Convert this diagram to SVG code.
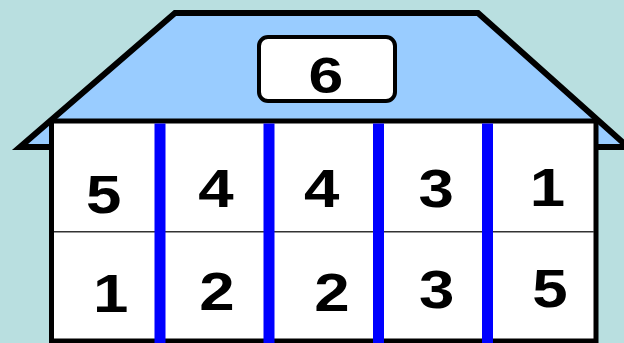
<svg xmlns="http://www.w3.org/2000/svg" width="624" height="343" viewBox="0 0 624 343">
<style>
.num{font-family:"Liberation Sans",Arial,sans-serif;font-weight:bold;font-size:53px;fill:#000;text-anchor:middle}
.bar{fill:#0000ff}
</style>
<rect x="0" y="0" width="624" height="343" fill="#b9dfe0"/>
<g id="roof">
<polygon points="20,147 175,13 478,13 628,147" fill="#99ccff" stroke="#000" stroke-width="6" stroke-linejoin="miter"/>
</g>
<g id="label-box">
<rect x="259" y="37" width="136" height="64" rx="9" fill="#fff" stroke="#000" stroke-width="4"/>
<text class="num" transform="translate(326,92.5) scale(1.25,1)" style="font-size:50px">6</text>
</g>
<g id="house">
<rect x="51.5" y="121" width="544.5" height="220" fill="#fff" stroke="#000" stroke-width="5"/>
<line x1="54" y1="231.7" x2="594" y2="231.7" stroke="#333" stroke-width="1.5"/>
</g>
<g id="connectors">
<rect class="bar" x="154.5" y="123.5" width="11" height="220"/>
<rect class="bar" x="263.5" y="123.5" width="11" height="220"/>
<rect class="bar" x="373" y="123.5" width="11" height="220"/>
<rect class="bar" x="482" y="123.5" width="11" height="220"/>
</g>
<g id="top-row">
<text class="num" transform="translate(103.7,212.5) scale(1.2,1)">5</text>
<text class="num" transform="translate(216,207) scale(1.2,1)">4</text>
<text class="num" transform="translate(321.7,207) scale(1.2,1)">4</text>
<text class="num" transform="translate(436.3,207) scale(1.2,1)">3</text>
<text class="num" transform="translate(547.5,206) scale(1.2,1)">1</text>
</g>
<g id="bottom-row">
<text class="num" transform="translate(110.8,311.5) scale(1.2,1)">1</text>
<text class="num" transform="translate(217,310) scale(1.2,1)">2</text>
<text class="num" transform="translate(332,310.5) scale(1.2,1)">2</text>
<text class="num" transform="translate(436.7,308) scale(1.2,1)">3</text>
<text class="num" transform="translate(550,306.5) scale(1.2,1)">5</text>
</g>
</svg>
